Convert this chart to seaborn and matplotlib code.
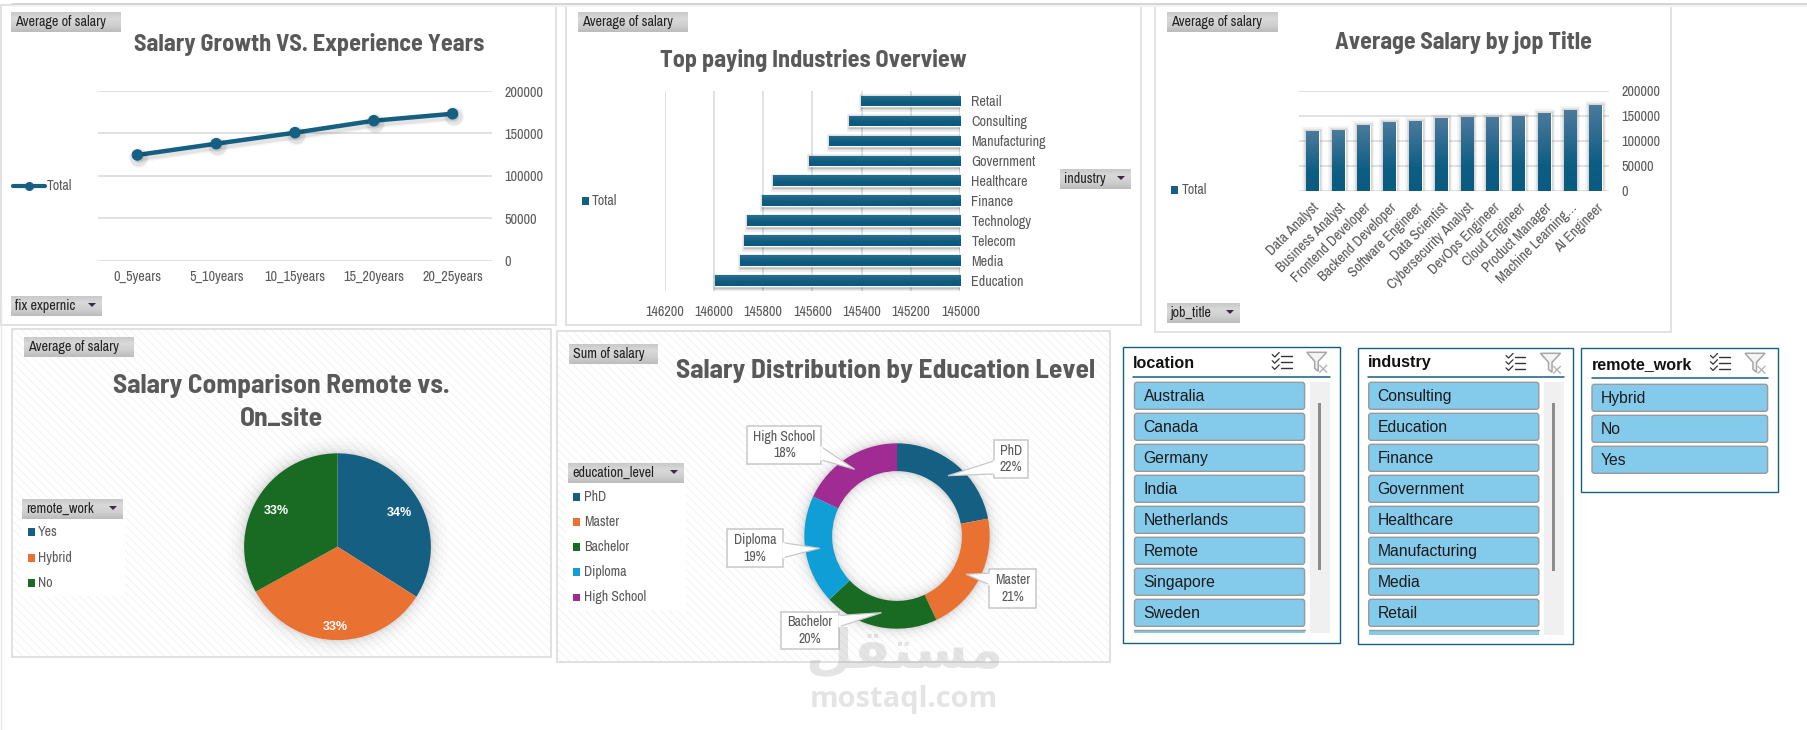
import math
import numpy as np
import pandas as pd
import matplotlib
matplotlib.use("Agg")
import matplotlib.pyplot as plt
import matplotlib.patheffects as pe
from matplotlib import font_manager as fm
from matplotlib.colors import LinearSegmentedColormap
from matplotlib.patches import Rectangle, FancyBboxPatch, PathPatch, Polygon, Circle, Wedge
from matplotlib.transforms import ScaledTranslation
import seaborn as sns

# ---------- data ----------
experience_bands = ["0_5years", "5_10years", "10_15years", "15_20years", "20_25years"]
experience_salary = [124600, 137900, 150900, 165000, 173200]

industries = ["Retail", "Consulting", "Manufacturing", "Government", "Healthcare",
              "Finance", "Technology", "Telecom", "Media", "Education"]
industry_salary = [145402, 145452, 145532, 145613, 145759,
                   145804, 145865, 145877, 145894, 145995]

job_titles = ["Data Analyst", "Business Analyst", "Frontend Developer", "Backend Developer",
              "Software Engineer", "Data Scientist", "Cybersecurity Analyst", "DevOps Engineer",
              "Cloud Engineer", "Product Manager", "Machine Learning…", "AI Engineer"]
job_salary = [119700, 121700, 131800, 137800, 139800, 145800,
              147800, 147800, 149200, 155900, 161900, 171900]

remote_modes = ["Yes", "Hybrid", "No"]
remote_share = [34, 33, 33]

education_levels = ["PhD", "Master", "Bachelor", "Diploma", "High School"]
education_share = [22, 21, 20, 19, 18]

locations = ["Australia", "Canada", "Germany", "India", "Netherlands",
             "Remote", "Singapore", "Sweden"]
industry_slicer = ["Consulting", "Education", "Finance", "Government",
                   "Healthcare", "Manufacturing", "Media", "Retail"]
remote_slicer = ["Hybrid", "No", "Yes"]

# ---------- style ----------
W, H = 1808, 730
BLUE, ORANGE, GREEN, CYAN, PURPLE = "#156082", "#E97132", "#196B24", "#0F9ED5", "#A02B93"
INK = "#595959"
GRID = "#d9d9d9"

sns.set_theme(style="white")
installed = {f.name for f in fm.fontManager.ttflist}


def pick(*names):
    for n in names:
        if n in installed:
            return n
    return "DejaVu Sans"


NARROW = pick("Archivo Narrow", "Roboto Condensed", "Liberation Sans Narrow", "Liberation Sans")
TITLE = pick("Barlow Semi Condensed", "Roboto Condensed", "Liberation Sans")
ARIAL = pick("Liberation Sans", "DejaVu Sans")
plt.rcParams["font.family"] = [NARROW, "DejaVu Sans"]
plt.rcParams["hatch.linewidth"] = 0.7

fig = plt.figure(figsize=(W / 100, H / 100), dpi=100, facecolor="white")


def px_axes(x0, y0, x1, y1, z=5):
    ax = fig.add_axes([x0 / W, 1 - y1 / H, (x1 - x0) / W, (y1 - y0) / H], zorder=z)
    ax.patch.set_visible(False)
    return ax


def pixel_layer(z):
    ax = px_axes(0, 0, W, H, z)
    ax.set_xlim(0, W)
    ax.set_ylim(H, 0)
    ax.axis("off")
    return ax


under = pixel_layer(0)
over = pixel_layer(10)


def gradient_image(ax, extent, stops, clip=None, z=3):
    cmap = LinearSegmentedColormap.from_list("g", stops)
    img = ax.imshow(np.linspace(0, 1, 64).reshape(-1, 1), extent=extent, origin="upper",
                    aspect="auto", cmap=cmap, zorder=z, interpolation="bilinear")
    if clip is not None:
        img.set_clip_path(clip)
    return img


def soft_shadow(ax, patch, layers, dx=1.0, dy=-1.5, z=1.5):
    """Layer translucent outlines under a patch to fake a blurred drop shadow."""
    path = patch.get_path().transformed(patch.get_patch_transform())
    shift = ScaledTranslation(dx / 100, dy / 100, fig.dpi_scale_trans)
    for lw, alpha in layers:
        ax.add_patch(PathPatch(path, fc="none", ec="black", lw=lw, alpha=alpha,
                               transform=ax.transData + shift, zorder=z))


def panel(x0, y0, x1, y1, hatched=False):
    if hatched:
        under.add_patch(Rectangle((x0, y0), x1 - x0, y1 - y0, fc="white", ec="#f3f3f3",
                                  lw=0, hatch="\\\\\\\\"))
    under.add_patch(Rectangle((x0, y0), x1 - x0, y1 - y0, fc="none", ec=GRID, lw=1.1))


def button(x0, y0, x1, y1, label, arrow=False):
    extent = [x0, x1, y1, y0]
    gradient_image(over, extent, ["#c9c9c9", "#d9d9d9", "#cfcfcf", "#bcbcbc"], z=2)
    over.text(x0 + 4, (y0 + y1) / 2, label, fontsize=10.2, color="#222222",
              va="center", ha="left", zorder=3)
    if arrow:
        ax_, ay_ = x1 - 10, (y0 + y1) / 2 - 1
        over.add_patch(Polygon([(ax_ - 4, ay_ - 2), (ax_ + 4, ay_ - 2), (ax_, ay_ + 2)],
                               fc="#3a2a45", ec="none", zorder=3))


def legend_items(x_sq, x_txt, ys, labels, colors):
    for y, lab, col in zip(ys, labels, colors):
        over.add_patch(Rectangle((x_sq, y - 3.7), 7.5, 7.5, fc=col, ec="none", zorder=3))
        over.text(x_txt, y, lab, fontsize=10, color=INK, va="center", ha="left", zorder=3)


def chart_title(x, y, text, size=17.4):
    over.text(x, y, text, fontsize=size, fontweight="bold", family=TITLE, color=INK,
              ha="center", va="center", zorder=3)


def clean(ax):
    for s in ax.spines.values():
        s.set_visible(False)
    ax.set_xlabel("")
    ax.set_ylabel("")
    ax.set_axisbelow(True)


# ---------- page furniture ----------
under.plot([12, W], [4.3, 4.3], color="#cfcfcf", lw=1.2)
under.plot([12, W], [6, 6], color="#f3f3f3", lw=1.5)
under.plot([1, 1], [300, H], color="#e6e6e6", lw=1)
panel(0.5, 5, 556, 325)
panel(566.5, 5, 1141, 325)
panel(1155.5, 5, 1671.4, 332)
panel(12.5, 328.7, 551, 657.3, hatched=True)
panel(557, 331, 1110, 661.7, hatched=True)

# ---------- salary vs experience ----------
ax1 = px_axes(98, 91, 492, 260.7)
df1 = pd.DataFrame({"band": experience_bands, "salary": experience_salary})
sns.lineplot(data=df1, x="band", y="salary", color=BLUE, lw=3.2, marker="o", markersize=7.5,
             markeredgecolor=BLUE, sort=False, errorbar=None, ax=ax1, zorder=4,
             path_effects=[pe.Stroke(linewidth=7, foreground="black", alpha=0.04, offset=(1, -2)),
                           pe.Stroke(linewidth=5, foreground="black", alpha=0.07, offset=(1, -2)),
                           pe.Normal()])
ax1.set_xlim(-0.5, 4.5)
ax1.set_ylim(0, 200000)
ax1.set_yticks(range(0, 200001, 50000))
ax1.yaxis.tick_right()
ax1.grid(axis="y", color=GRID, lw=1.1)
ax1.tick_params(axis="y", length=0, pad=9, labelsize=10.2, labelcolor=INK)
ax1.tick_params(axis="x", length=0, pad=7, labelsize=10.2, labelcolor=INK)
clean(ax1)
chart_title(309, 45, "Salary Growth VS. Experience Years")
button(11, 12.3, 121, 32, "Average of salary")
button(11, 296, 102, 316, "fix expernic", arrow=True)
over.plot([13.5, 45.4], [186, 186], color=BLUE, lw=3, zorder=3)
over.plot([29], [186], "o", color=BLUE, ms=5.5, zorder=3)
over.text(46.5, 186, "Total", fontsize=10, color=INK, va="center", zorder=3)

# ---------- industries ----------
ax2 = px_axes(664.5, 91, 960.3, 290.7)
df2 = pd.DataFrame({"industry": industries, "salary": industry_salary})
sns.barplot(data=df2, y="industry", x="salary", color=BLUE, saturation=1, width=0.54,
            errorbar=None, ax=ax2, zorder=2)
ax2.set_xlim(146200, 145000)
ax2.set_xticks(range(146200, 144999, -200))
ax2.yaxis.tick_right()
ax2.grid(axis="x", color=GRID, lw=1.1)
ax2.grid(axis="y", visible=False)
ax2.tick_params(axis="x", length=0, pad=10, labelsize=10.2, labelcolor=INK)
ax2.tick_params(axis="y", length=0, pad=8, labelsize=10.2, labelcolor=INK)
clean(ax2)
for bar, value in zip(ax2.containers[0], industry_salary):
    y0, h = bar.get_y(), bar.get_height()
    soft_shadow(ax2, Rectangle((145000, y0), value - 145000, h, transform=ax2.transData),
                [(5, 0.06), (3.2, 0.08), (1.6, 0.12)])
    gradient_image(ax2, [145000, value, y0 + h, y0],
                   ["#2a6e90", "#186486", "#0f5a7e", "#0b5a80"], clip=bar)
ax2.set_xlim(146200, 145000)
ax2.set_ylim(9.5, -0.5)
chart_title(813, 60, "Top paying Industries Overview")
button(578, 12.3, 688, 32, "Average of salary")
button(1060, 169, 1131, 189, "industry", arrow=True)
legend_items(582, 592, [200.7], ["Total"], [BLUE])

# ---------- job titles ----------
ax3 = px_axes(1299.5, 91, 1608.7, 190.7)
df3 = pd.DataFrame({"job": job_titles, "salary": job_salary})
sns.barplot(data=df3, x="job", y="salary", color=BLUE, saturation=1, width=0.5,
            errorbar=None, ax=ax3, zorder=2)
ax3.set_ylim(0, 200000)
ax3.set_yticks(range(0, 200001, 50000))
ax3.yaxis.tick_right()
ax3.grid(axis="y", color=GRID, lw=1.1)
ax3.tick_params(axis="y", length=0, pad=9, labelsize=10.2, labelcolor=INK)
ax3.tick_params(axis="x", length=0, pad=7, labelsize=10.4, labelcolor=INK)
plt.setp(ax3.get_xticklabels(), rotation=45, ha="right", rotation_mode="anchor")
clean(ax3)
ax3.axhline(0, color="#e4e4e4", lw=1.4, zorder=1)
for bar, value in zip(ax3.containers[0], job_salary):
    x0, w = bar.get_x(), bar.get_width()
    soft_shadow(ax3, bar, [(5.5, 0.05), (3.5, 0.07), (1.8, 0.10)], dx=0, dy=0)
    gradient_image(ax3, [x0, x0 + w, 0, value], ["#4a7a9c", "#2d6c90", "#0e5e84", "#0a5b81"], clip=bar)
ax3.set_xlim(-0.5, 11.5)
ax3.set_ylim(0, 200000)
chart_title(1463, 42, "Average Salary by jop Title", 17.2)
button(1167, 12.3, 1278, 32, "Average of salary")
button(1167, 303, 1240, 323, "job_title", arrow=True)
legend_items(1171, 1182, [189.7], ["Total"], [BLUE])

# ---------- remote pie ----------
R4 = 93.4
ax4 = px_axes(337.5 - 1.3 * R4, 546.7 - 1.3 * R4, 337.5 + 1.3 * R4, 546.7 + 1.3 * R4)
halo = Circle((0, 0), 1.0, transform=ax4.transData)
wedges, _, pct = ax4.pie(remote_share, colors=[BLUE, ORANGE, GREEN], startangle=90, counterclock=False,
                         radius=1, autopct=lambda p: f"{p:.0f}%", pctdistance=0.76,
                         wedgeprops=dict(zorder=2, linewidth=0))
soft_shadow(ax4, halo, [(24, 0.012), (18, 0.015), (12, 0.02), (7, 0.03), (3, 0.04)], dx=0, dy=0, z=1)
for w, t, dist in zip(wedges, pct, [0.76, 0.856, 0.757]):
    a = math.radians((w.theta1 + w.theta2) / 2)
    t.set_position((dist * math.cos(a), dist * math.sin(a)))
    t.set(color="white", fontweight="bold", fontsize=9, family=ARIAL)
ax4.set_xlim(-1.3, 1.3)
ax4.set_ylim(-1.3, 1.3)
chart_title(281, 386.5, "Salary Comparison Remote vs.", 19.7)
chart_title(281, 419, "On_site", 19.7)
button(24, 337, 134, 357, "Average of salary")
over.add_patch(Rectangle((21.4, 519), 103.6, 77, fc="white", ec="none", zorder=1))
button(22, 499, 123, 519, "remote_work", arrow=True)
legend_items(27.9, 38.2, [532, 557.7, 582.7], remote_modes, [BLUE, ORANGE, GREEN])

# ---------- education donut ----------
R5 = 92.7
ax5 = px_axes(897 - 1.3 * R5, 536 - 1.3 * R5, 897 + 1.3 * R5, 536 + 1.3 * R5)
ring = Wedge((0, 0), 1.0, 0, 360, width=0.30)
ax5.pie(education_share, colors=[BLUE, ORANGE, GREEN, CYAN, PURPLE], startangle=90, counterclock=False,
        radius=1, wedgeprops=dict(width=0.30, zorder=2, linewidth=0))
soft_shadow(ax5, ring, [(20, 0.012), (14, 0.016), (9, 0.022), (5, 0.03), (2.5, 0.04)], dx=0, dy=0, z=1)
ax5.set_xlim(-1.3, 1.3)
ax5.set_ylim(-1.3, 1.3)
chart_title(886, 371, "Salary Distribution by Education Level", 19.7)
button(569, 344, 658, 364, "Sum of salary")
over.add_patch(Rectangle((566, 483), 120, 127, fc="white", ec="none", zorder=1))
button(568, 463, 684, 483, "education_level", arrow=True)
legend_items(573, 584, [496.7, 521.7, 546.7, 571.7, 597.3], education_levels,
             [BLUE, ORANGE, GREEN, CYAN, PURPLE])

callouts = [  # box x0, y0, x1, y1, pointer tip, side of the box that carries the pointer
    (994, 440.3, 1027.6, 477.7, (948, 475.7), "left"),
    (989.5, 569.3, 1035.6, 607.7, (966, 574.3), "left"),
    (781, 611.7, 839, 649.3, (881.5, 612.7), "right"),
    (727.4, 529.3, 782.6, 567.3, (819.7, 548.3), "right"),
    (747.4, 426.3, 821.5, 463.7, (854.6, 469.3), "right"),
]
for (x0, y0, x1, y1, tip, side), level, share in zip(callouts, education_levels, education_share):
    xs = x0 if side == "left" else x1
    ya, yb = y0 + (y1 - y0) * 0.55, y0 + (y1 - y0) * 0.9
    if side == "right" and tip[1] < y0 + 1 + (y1 - y0):
        ya, yb = y0 + (y1 - y0) * 0.35, y0 + (y1 - y0) * 0.75
    if tip[1] < y0 + (y1 - y0) * 0.3:
        ya, yb = y0 + (y1 - y0) * 0.1, y0 + (y1 - y0) * 0.4
    over.add_patch(Rectangle((x0, y0), x1 - x0, y1 - y0, fc="white", ec="#c8c8c8", lw=1.1, zorder=4))
    over.add_patch(Polygon([(xs, ya), tip, (xs, yb)], closed=False, fc="white", ec="#c8c8c8", lw=0.9, zorder=4))
    over.plot([xs, xs], [ya + 0.6, yb - 0.6], color="white", lw=1.8, zorder=4.5)
    over.text((x0 + x1) / 2, (y0 + y1) / 2, f"{level}\n{share}%", fontsize=10, color=INK,
              ha="center", va="center", linespacing=1.25, zorder=5)


# ---------- slicers ----------
def checklist_icon(x, y):
    for i in range(3):
        yy = y + 3 + i * 6.2
        over.plot([x + 9, x + 19.5], [yy, yy], color="#333333", lw=1, zorder=3)
        over.plot([x, x + 2.5, x + 7], [yy - 1, yy + 1.5, yy - 3], color="#333333", lw=0.9, zorder=3)


def filter_icon(x, y):
    over.add_patch(Polygon([(x, y), (x + 20, y), (x + 11.5, y + 9), (x + 11.5, y + 19),
                            (x + 8, y + 16), (x + 8, y + 9)], fc="#f4f4f4", ec="#a6a6a6", lw=1.1, zorder=3))
    over.plot([x + 13, x + 20], [y + 13, y + 20], color="#b4b4b4", lw=1, zorder=3)
    over.plot([x + 20, x + 13], [y + 13, y + 20], color="#b4b4b4", lw=1, zorder=3)


def slicer(x0, y0, x1, y1, title, items, bx0, bx1, head_x, rule_x1, first_y, y_title, y_rule,
           scroll=None, extra_clip=None):
    over.add_patch(Rectangle((x0, y0), x1 - x0, y1 - y0, fc="white", ec=BLUE, lw=1.0, zorder=1))
    over.text(head_x, y_title + 1, title, fontsize=11.6, fontweight="bold", family=ARIAL,
              color="#111111", va="center", zorder=3)
    over.plot([head_x, rule_x1], [y_rule, y_rule], color=BLUE, lw=1.1, zorder=3)
    checklist_icon(x1 - 67.5, y0 + 5.2)
    filter_icon(x1 - 33, y0 + 5)
    if scroll:
        sx0, sy0, sx1, sy1, ty0, ty1 = scroll
        over.add_patch(Rectangle((sx0, sy0), sx1 - sx0, sy1 - sy0, fc="#f0f0f0", ec="none", zorder=2))
        over.add_patch(Rectangle(((sx0 + sx1) / 2 - 1.5, ty0), 3, ty1 - ty0, fc="#8c8c8c", ec="none", zorder=3))
    for i, item in enumerate(items):
        top = first_y + i * 31
        over.add_patch(FancyBboxPatch((bx0, top), bx1 - bx0, 27, boxstyle="round,pad=0,rounding_size=2.5",
                                      fc="#83CAEB", ec="#9a9a9a", lw=1.0, zorder=3))
        over.text(bx0 + 9, top + 14.5, item, fontsize=11.3, family=ARIAL, color="#1a1a1a",
                  va="center", zorder=4)
    if extra_clip:
        top = first_y + len(items) * 31
        over.add_patch(Rectangle((bx0, top), bx1 - bx0, extra_clip - top, fc="#83CAEB", ec="none", zorder=3))
        over.plot([bx0, bx1], [top, top], color="#9a9a9a", lw=1, zorder=3)


slicer(1123.4, 347.3, 1339.7, 642.7, "location", locations, 1134.5, 1304.6, 1133, 1330, 382.3, 362, 377.3,
       scroll=(1310, 382, 1330, 632.7, 403, 570), extra_clip=632.7)
slicer(1358.4, 348.3, 1573.5, 643.7, "industry", industry_slicer, 1368.7, 1538.8, 1368, 1564, 382.3, 362, 377.3,
       scroll=(1544, 382, 1564, 634.7, 403, 570.7), extra_clip=634.7)
slicer(1581.5, 348.3, 1778, 492.3, "remote_work", remote_slicer, 1592, 1767.6, 1592, 1767.6, 384.3, 363.7, 378.3)

# ---------- site mark ----------
over.text(904, 652, "\uFEDE\uFED8\uFE98\uFEB4\uFEE3", fontsize=39, fontweight="bold", family="DejaVu Sans",
          color="#9a9a9a", alpha=0.26, ha="center", va="center", zorder=8)
over.text(904, 699, "mostaql.com", fontsize=21, fontweight="bold", family=pick("Open Sans", "DejaVu Sans"),
          color="#9a9a9a", alpha=0.26, ha="center", va="center", zorder=8)

under.set_xlim(0, W)
under.set_ylim(H, 0)
over.set_xlim(0, W)
over.set_ylim(H, 0)
fig.savefig("out.png", dpi=100)
